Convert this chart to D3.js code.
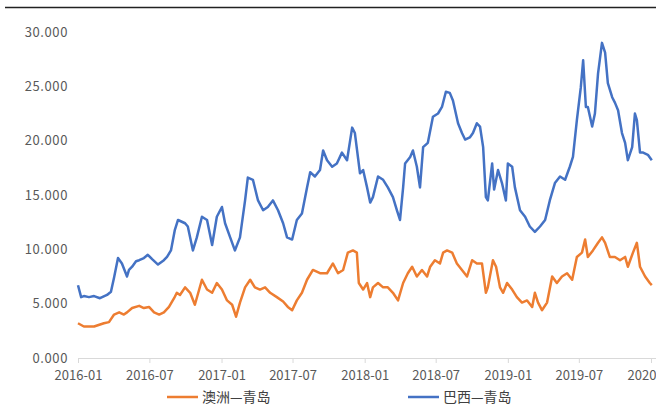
<!DOCTYPE html>
<html>
<head>
<meta charset="utf-8">
<script src="https://cdnjs.cloudflare.com/ajax/libs/d3/7.8.5/d3.min.js"></script>
<style>
  html, body { margin: 0; padding: 0; background: #fff; }
  svg { display: block; }
</style>
</head>
<body>
<div id="chart"></div>
<script>
// values
var seriesNames = ['澳洲—青岛', '巴西—青岛'];
var yTicks = [0, 5, 10, 15, 20, 25, 30];
var xTicks = ['2016-01', '2016-07', '2017-01', '2017-07', '2018-01', '2018-07', '2019-01', '2019-07', '2020-01'];

var brazilDates = ['2016-01-01','2016-01-09','2016-01-16','2016-01-29','2016-02-11','2016-02-26','2016-03-15','2016-03-25','2016-04-02','2016-04-12',
  '2016-04-22','2016-05-05','2016-05-10','2016-05-18','2016-05-28','2016-06-05','2016-06-17','2016-06-27','2016-07-08','2016-07-23',
  '2016-08-07','2016-08-15','2016-08-25','2016-09-04','2016-09-12','2016-09-30','2016-10-07','2016-10-20','2016-10-30','2016-11-12',
  '2016-11-25','2016-12-08','2016-12-20','2017-01-02','2017-01-10','2017-01-23','2017-02-04','2017-02-17','2017-03-02','2017-03-09',
  '2017-03-22','2017-04-04','2017-04-17','2017-04-29','2017-05-12','2017-05-25','2017-06-07','2017-06-17','2017-06-30','2017-07-12',
  '2017-07-25','2017-08-07','2017-08-15','2017-08-27','2017-09-09','2017-09-17','2017-09-27','2017-10-10','2017-10-22','2017-11-04',
  '2017-11-17','2017-11-30','2017-12-07','2017-12-20','2017-12-28','2018-01-07','2018-01-15','2018-01-22','2018-02-04','2018-02-17',
  '2018-03-01','2018-03-14','2018-03-24','2018-04-01','2018-04-09','2018-04-14','2018-04-27','2018-05-04','2018-05-14','2018-05-22',
  '2018-05-30','2018-06-11','2018-06-24','2018-07-07','2018-07-17','2018-07-27','2018-08-06','2018-08-14','2018-08-27','2018-09-06',
  '2018-09-14','2018-09-26','2018-10-04','2018-10-14','2018-10-22','2018-10-30','2018-11-06','2018-11-11','2018-11-22','2018-11-27',
  '2018-12-07','2018-12-17','2018-12-27','2019-01-01','2019-01-12','2019-01-19','2019-02-01','2019-02-14','2019-02-26','2019-03-11',
  '2019-03-24','2019-04-06','2019-04-18','2019-05-01','2019-05-14','2019-05-27','2019-06-08','2019-06-16','2019-06-26','2019-07-06',
  '2019-07-12','2019-07-19','2019-07-24','2019-08-04','2019-08-11','2019-08-19','2019-08-29','2019-09-06','2019-09-13','2019-09-24',
  '2019-10-01','2019-10-09','2019-10-19','2019-10-27','2019-11-03','2019-11-14','2019-11-21','2019-11-26','2019-12-04','2019-12-12',
  '2019-12-24','2020-01-03'];
var brazilValues = [6.7,5.6,5.7,5.6,5.7,5.5,5.8,6.1,7.4,9.2,
  8.7,7.5,8.1,8.4,8.9,9.0,9.2,9.5,9.1,8.6,
  9.0,9.3,9.9,11.8,12.7,12.4,12.1,9.9,11.1,13.0,
  12.7,10.4,13.0,13.9,12.4,11.1,9.9,11.1,14.5,16.6,
  16.4,14.5,13.6,13.9,14.5,13.6,12.4,11.1,10.9,12.7,
  13.3,15.7,17.1,16.7,17.3,19.1,18.2,17.6,17.9,18.9,
  18.2,21.2,20.7,17.0,17.3,15.7,14.3,14.8,16.7,16.4,
  15.7,14.8,13.6,12.7,15.7,17.9,18.5,19.1,17.6,15.7,
  19.4,19.8,22.2,22.5,23.1,24.5,24.4,23.7,21.6,20.7,
  20.1,20.3,20.7,21.6,21.3,19.4,14.8,14.5,17.9,15.5,
  17.3,16.1,14.5,17.9,17.6,15.7,13.6,13.0,12.1,11.6,
  12.1,12.7,14.5,16.1,16.7,16.4,17.6,18.5,21.9,24.9,
  27.4,23.1,23.1,21.3,22.5,26.2,29.0,28.1,25.3,24.0,
  23.5,22.8,20.7,19.8,18.2,19.4,22.5,21.9,18.9,18.9,
  18.7,18.2];

var australiaDates = ['2016-01-01','2016-01-16','2016-02-11','2016-03-07','2016-03-20','2016-04-02','2016-04-15','2016-04-27','2016-05-05','2016-05-18',
  '2016-06-05','2016-06-17','2016-06-30','2016-07-13','2016-07-26','2016-08-07','2016-08-20','2016-09-02','2016-09-09','2016-09-17',
  '2016-09-30','2016-10-13','2016-10-25','2016-11-12','2016-11-25','2016-12-08','2016-12-20','2017-01-02','2017-01-15','2017-01-28',
  '2017-02-07','2017-02-17','2017-03-02','2017-03-15','2017-03-27','2017-04-09','2017-04-22','2017-05-05','2017-05-22','2017-06-07',
  '2017-06-19','2017-06-30','2017-07-12','2017-07-25','2017-08-07','2017-08-22','2017-09-09','2017-09-27','2017-10-12','2017-10-25',
  '2017-11-07','2017-11-19','2017-12-02','2017-12-12','2017-12-17','2017-12-28','2018-01-07','2018-01-15','2018-01-22','2018-02-04',
  '2018-02-17','2018-03-01','2018-03-14','2018-03-27','2018-04-09','2018-04-21','2018-05-02','2018-05-14','2018-05-27','2018-06-09',
  '2018-06-17','2018-06-29','2018-07-12','2018-07-20','2018-07-30','2018-08-12','2018-08-24','2018-09-06','2018-09-19','2018-10-02',
  '2018-10-14','2018-10-27','2018-11-06','2018-11-11','2018-11-24','2018-12-02','2018-12-12','2018-12-20','2018-12-30','2019-01-12',
  '2019-01-24','2019-02-06','2019-02-19','2019-03-04','2019-03-11','2019-03-19','2019-03-29','2019-04-11','2019-04-24','2019-05-06',
  '2019-05-19','2019-06-01','2019-06-14','2019-06-26','2019-07-09','2019-07-17','2019-07-24','2019-08-06','2019-08-19','2019-08-29',
  '2019-09-06','2019-09-18','2019-10-01','2019-10-14','2019-10-27','2019-11-03','2019-11-16','2019-11-26','2019-12-04','2019-12-17',
  '2019-12-29','2020-01-03'];
var australiaValues = [3.2,2.9,2.9,3.2,3.3,4.0,4.2,4.0,4.2,4.6,
  4.8,4.6,4.7,4.2,4.0,4.2,4.7,5.5,6.0,5.8,
  6.5,6.0,4.9,7.2,6.3,6.0,6.9,6.3,5.3,4.9,
  3.8,5.1,6.5,7.2,6.5,6.3,6.5,6.0,5.6,5.2,
  4.7,4.4,5.3,6.0,7.2,8.1,7.8,7.8,8.7,7.8,
  8.1,9.7,9.9,9.7,6.9,6.3,6.9,5.6,6.5,6.9,
  6.5,6.5,6.0,5.3,6.9,7.8,8.4,7.5,8.1,7.5,
  8.4,9.0,8.7,9.7,9.9,9.7,8.7,8.1,7.5,9.0,
  8.7,8.7,6.0,6.5,9.0,8.4,6.5,6.0,6.9,6.3,
  5.6,5.1,5.3,4.7,6.0,5.1,4.4,5.1,7.5,6.9,
  7.5,7.8,7.2,9.3,9.7,10.9,9.3,9.9,10.6,11.1,
  10.6,9.3,9.3,9.0,9.3,8.4,9.7,10.6,8.4,7.5,
  6.9,6.7];

var colors = ['#ED7D31', '#4472C4'];

var width = 656, height = 405;
var svg = d3.select('#chart').append('svg')
  .attr('width', width)
  .attr('height', height)
  .style('font-family', '"Noto Sans CJK SC", "Noto Sans", sans-serif');

var parseDay = d3.timeParse('%Y-%m-%d');
var parseMonth = d3.timeParse('%Y-%m');

var x = d3.scaleTime()
  .domain([parseMonth('2016-01'), parseMonth('2020-01')])
  .range([78, 651]);
var y = d3.scaleLinear()
  .domain([0, 30])
  .range([358, 32]);

// top rule
svg.append('line')
  .attr('x1', 5).attr('x2', width)
  .attr('y1', 7.5).attr('y2', 7.5)
  .attr('stroke', '#222').attr('stroke-width', 1.6);

// x axis
var xAxis = svg.append('g')
  .attr('transform', 'translate(0,358)')
  .call(d3.axisBottom(x)
    .tickValues(xTicks.map(parseMonth))
    .tickFormat(d3.timeFormat('%Y-%m'))
    .tickSizeInner(5).tickSizeOuter(0).tickPadding(8));
xAxis.select('.domain').attr('d', 'M78,0.5H700').attr('stroke', '#d9d9d9');
xAxis.selectAll('.tick line').attr('stroke', '#d9d9d9');
xAxis.selectAll('text')
  .attr('fill', '#595959')
  .style('font-size', '13px')
  .style('font-family', '"Noto Sans CJK SC", sans-serif');

// y axis labels only
var yAxis = svg.append('g')
  .attr('transform', 'translate(68,0)')
  .call(d3.axisLeft(y)
    .tickValues(yTicks)
    .tickFormat(d3.format('.3f'))
    .tickSize(0).tickPadding(0));
yAxis.select('.domain').remove();
yAxis.selectAll('text')
  .attr('fill', '#595959')
  .style('font-size', '13px')
  .style('letter-spacing', '0.6px')
  .style('font-family', '"Noto Sans CJK SC", sans-serif');

var line = d3.line()
  .x(function(d) { return x(d.date); })
  .y(function(d) { return y(d.value); });

function toPoints(dates, values) {
  return dates.map(function(d, i) { return { date: parseDay(d), value: values[i] }; });
}

var series = [
  toPoints(australiaDates, australiaValues),
  toPoints(brazilDates, brazilValues)
];

svg.selectAll('.series')
  .data(series)
  .enter().append('path')
  .attr('class', 'series')
  .attr('d', line)
  .attr('fill', 'none')
  .attr('stroke', function(d, i) { return colors[i]; })
  .attr('stroke-width', 2.5)
  .attr('stroke-linejoin', 'round');

// legend
var legendX = [167, 408];
var legend = svg.selectAll('.legend')
  .data(seriesNames)
  .enter().append('g')
  .attr('class', 'legend')
  .attr('transform', function(d, i) { return 'translate(' + legendX[i] + ',397)'; });
legend.append('line')
  .attr('x1', 0).attr('x2', 31)
  .attr('stroke', function(d, i) { return colors[i]; })
  .attr('stroke-width', 2.5);
legend.append('text')
  .attr('x', 35)
  .attr('dy', '0.35em')
  .attr('fill', '#404040')
  .style('font-size', '14px')
  .text(function(d) { return d; });
</script>
</body>
</html>
